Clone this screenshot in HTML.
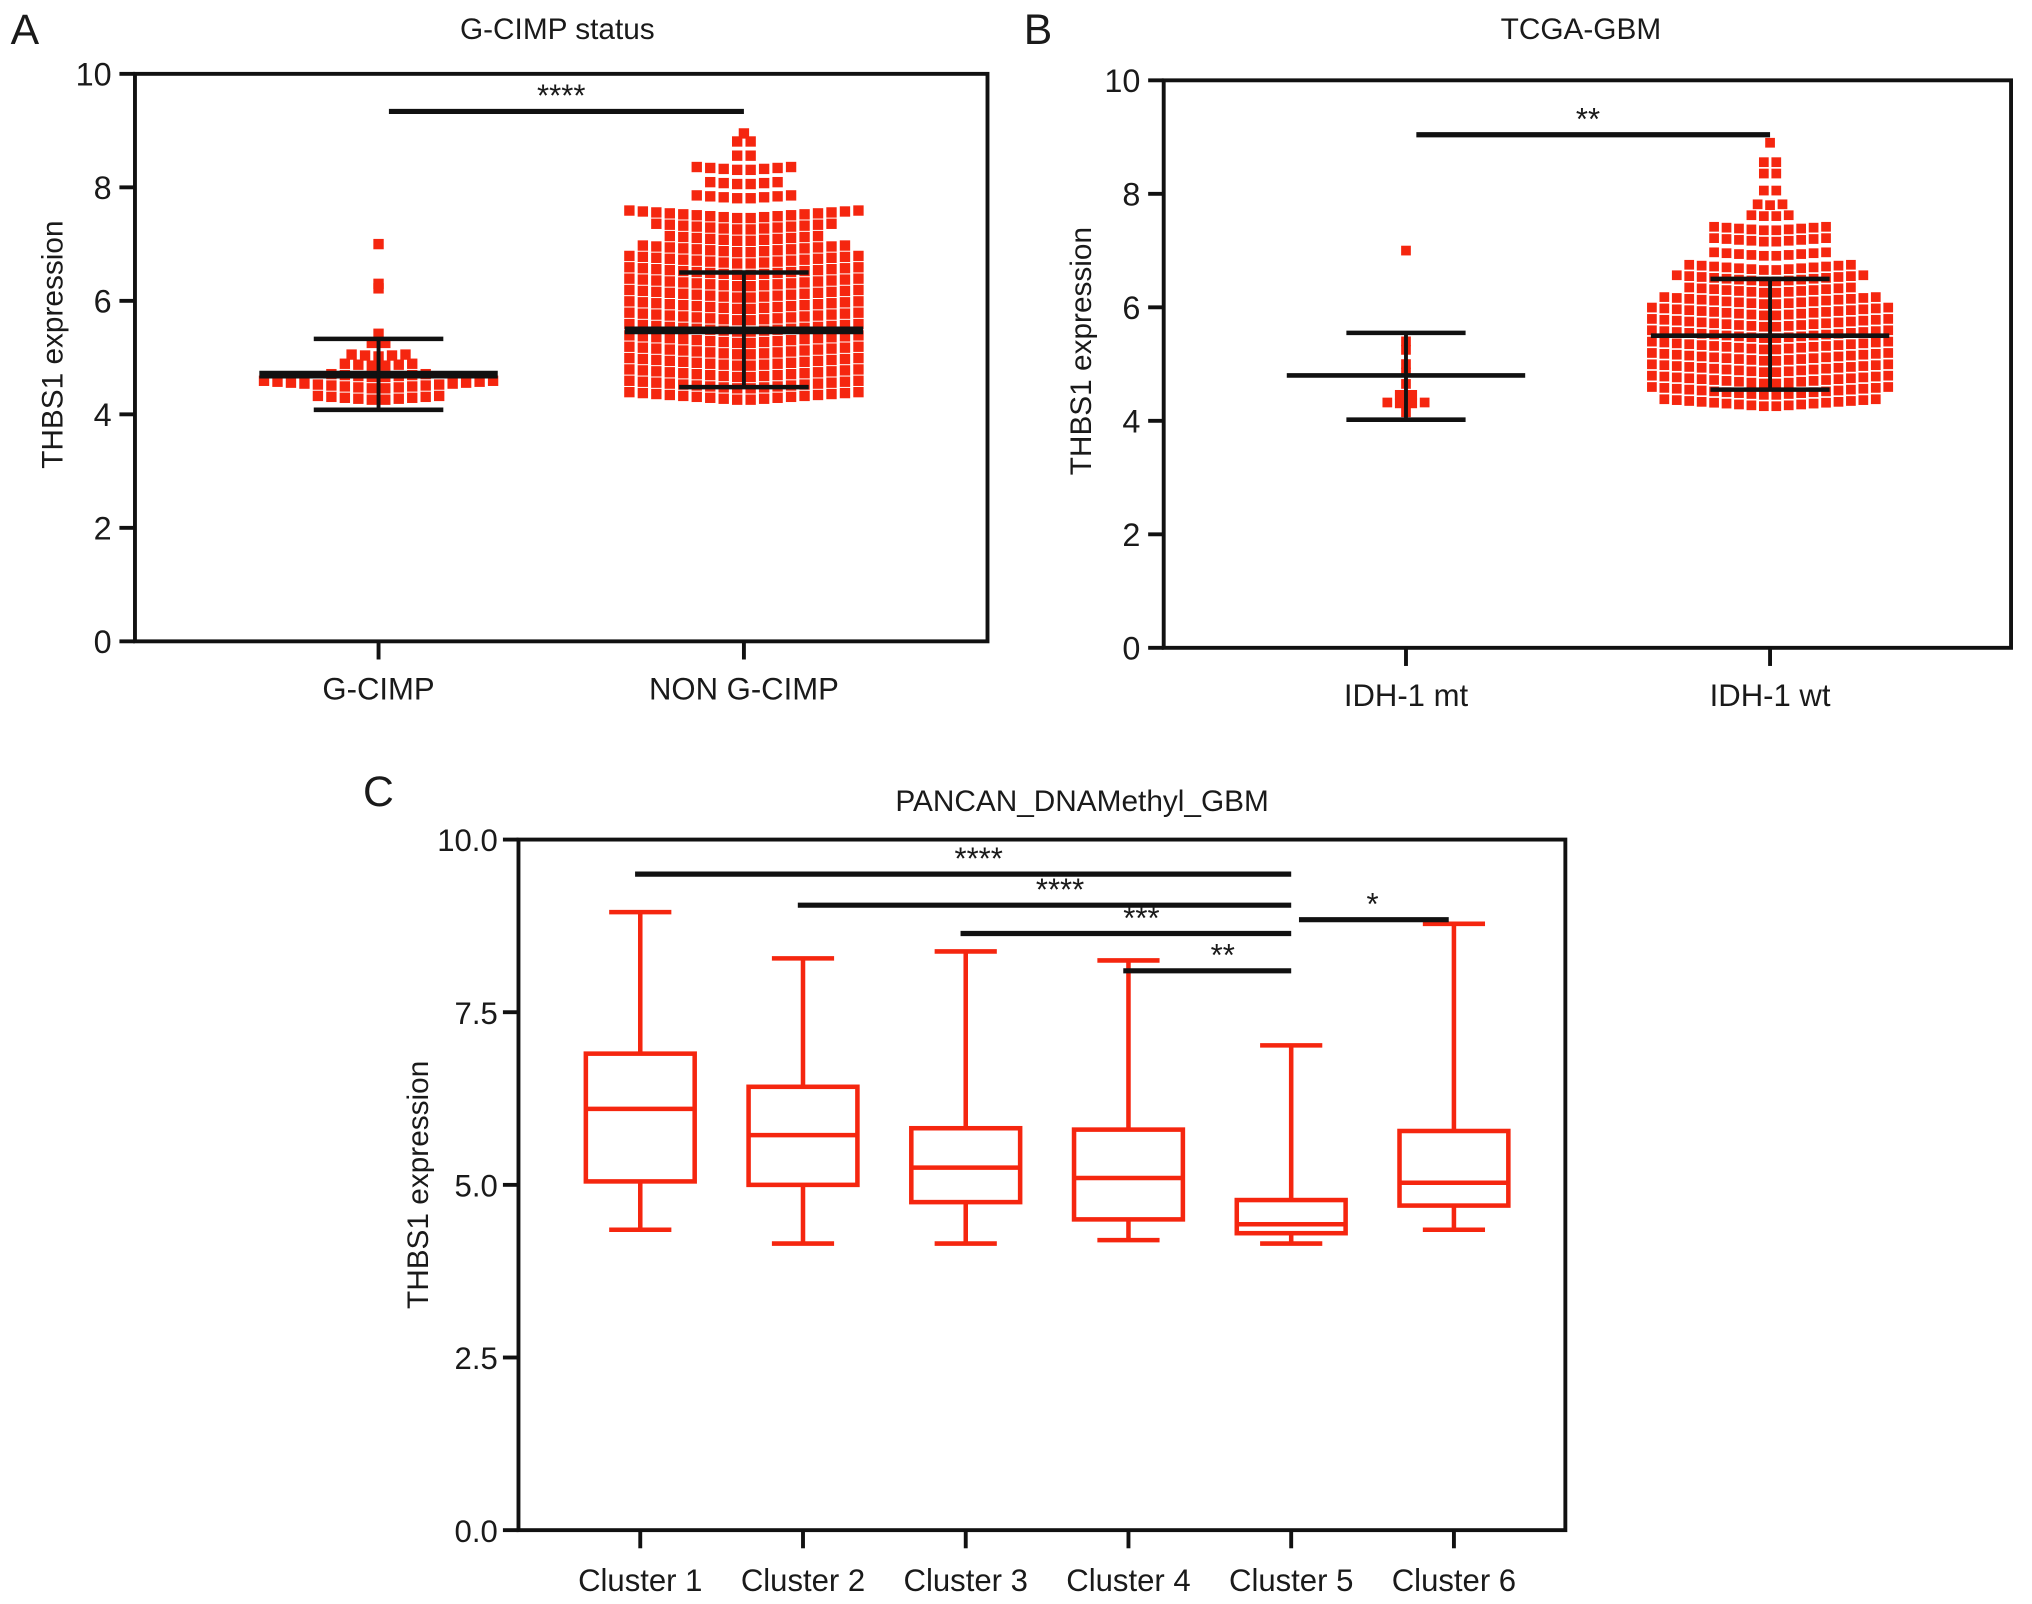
<!DOCTYPE html>
<html><head><meta charset="utf-8"><style>
html,body{margin:0;padding:0;background:#fff}
svg{display:block}
text{font-family:"Liberation Sans",Arial,sans-serif;fill:#1a1a1a}
</style></head><body>
<svg id="fig" width="2032" height="1604" viewBox="0 0 1568 1238" xmlns="http://www.w3.org/2000/svg">
<g id="gA"></g>
<g id="gB"></g>
<g id="gC"></g>
</svg>
<script>
// ---------- Panel A data ----------
const aCategories = ["G-CIMP", "NON G-CIMP"];
const aMeans = [4.7, 5.48];
const aSdHigh = [5.33, 6.5];
const aSdLow = [4.08, 4.48];
const aBinValues0 = [7.0, 6.3, 6.22, 5.42, 5.25, 5.02, 4.85, 4.65, 4.45, 4.25];
const aBinCounts0 = [1, 1, 1, 1, 2, 5, 6, 8, 18, 10];
const aBinValues1 = [8.95, 8.8, 8.55, 8.3, 8.05, 7.8, 7.45, 7.25, 7.05, 6.85, 6.65, 6.45, 6.25, 6.05, 5.85, 5.65, 5.45, 5.25, 5.05, 4.85, 4.65, 4.45, 4.25];
const aBinCounts1 = [1, 2, 2, 8, 6, 8, 18, 14, 12, 16, 18, 18, 18, 18, 18, 18, 18, 18, 18, 18, 18, 18, 18];
const aYTicks = [0, 2, 4, 6, 8, 10];

// ---------- Panel B data ----------
const bCategories = ["IDH-1 mt", "IDH-1 wt"];
const bMeans = [4.8, 5.5];
const bSdHigh = [5.55, 6.5];
const bSdLow = [4.02, 4.55];
const bBinValues0 = [7.0, 5.4, 5.25, 5.0, 4.85, 4.65, 4.45, 4.3, 4.15];
const bBinCounts0 = [1, 1, 1, 1, 1, 1, 2, 4, 1];
const bBinValues1 = [8.9, 8.55, 8.35, 8.05, 7.8, 7.6, 7.35, 7.15, 6.9, 6.65, 6.45, 6.25, 6.05, 5.85, 5.65, 5.45, 5.25, 5.05, 4.85, 4.65, 4.45, 4.25];
const bBinCounts1 = [1, 2, 2, 2, 3, 4, 10, 10, 10, 14, 16, 14, 18, 20, 20, 20, 20, 20, 20, 20, 20, 18];
const bYTicks = [0, 2, 4, 6, 8, 10];

// ---------- Panel C data ----------
const cCategories = ["Cluster 1", "Cluster 2", "Cluster 3", "Cluster 4", "Cluster 5", "Cluster 6"];
const cMin = [4.35, 4.15, 4.15, 4.2, 4.15, 4.35];
const cQ1 = [5.05, 5.0, 4.75, 4.5, 4.3, 4.7];
const cMedian = [6.1, 5.72, 5.25, 5.1, 4.43, 5.03];
const cQ3 = [6.9, 6.42, 5.82, 5.8, 4.78, 5.78];
const cMax = [8.95, 8.28, 8.38, 8.25, 7.02, 8.78];
const cYTicks = [0, 2.5, 5, 7.5, 10];
const cYTickLabels = ["0.0", "2.5", "5.0", "7.5", "10.0"];
const cSigFrom = [0, 1, 2, 3, 4];
const cSigTo = [4, 4, 4, 4, 5];
const cSigY = [9.5, 9.05, 8.64, 8.1, 8.84];
const cSigLabel = ["****", "****", "***", "**", "*"];

const NS = "http://www.w3.org/2000/svg";
function el(parent, tag, attrs, txt) {
  const e = document.createElementNS(NS, tag);
  for (const k in attrs) e.setAttribute(k, attrs[k]);
  if (txt !== undefined) e.textContent = txt;
  parent.appendChild(e);
  return e;
}

function dotPanel(g, cfg) {
  const yS = v => cfg.bottom - (v - 0) / 10 * (cfg.bottom - cfg.top);
  let f = el(g, "rect", {x: cfg.left, y: cfg.top, width: cfg.right - cfg.left, height: cfg.bottom - cfg.top, fill: "none", stroke: "#111", "stroke-width": 3});
  
  
  let t = el(g, "text", {x: cfg.letterX, y: 34, "font-size": 33}, cfg.letter);
  
  
  t = el(g, "text", {x: cfg.titleX, y: 30, "font-size": 23, "text-anchor": "middle"}, cfg.title);
  
  
  const yl = el(g, "text", {x: 0, y: 0, "font-size": 23, "text-anchor": "middle", transform: `translate(${cfg.left - 56},${(cfg.top + cfg.bottom) / 2 - 10}) rotate(-90)`}, "THBS1 expression");
  
  
  cfg.yTicks.forEach(v => {
    const tk = el(g, "line", {x1: cfg.left - 12, x2: cfg.left, y1: yS(v), y2: yS(v), stroke: "#111", "stroke-width": 3});
    
    
    const tl = el(g, "text", {x: cfg.left - 18, y: yS(v) + 9, "font-size": 25, "text-anchor": "end"}, String(v));
    
    
  });
  cfg.cats.forEach((c, i) => {
    const cx = cfg.xs[i];
    const tk = el(g, "line", {x1: cx, x2: cx, y1: cfg.bottom, y2: cfg.bottom + 14, stroke: "#111", "stroke-width": 3});
    
    
    const tl = el(g, "text", {x: cx, y: cfg.bottom + 45, "font-size": 24, "text-anchor": "middle"}, c);
    
    
    const vals = cfg.binVals[i], cnts = cfg.binCnts[i];
    vals.forEach((v, j) => {
      const n = cnts[j];
      for (let k = 0; k < n; k++) {
        const ox = (k - (n - 1) / 2) * cfg.sp;
        const tilt = Math.abs(ox) * 0.07;
        const r = el(g, "rect", {x: cx + ox - cfg.sz / 2, y: yS(v) - cfg.sz / 2 - tilt, width: cfg.sz, height: cfg.sz, fill: "#f5260f"});
        
        
      }
    });
  });
  cfg.cats.forEach((c, i) => {
    const cx = cfg.xs[i];
    let l = el(g, "line", {x1: cx - cfg.meanW, x2: cx + cfg.meanW, y1: yS(cfg.means[i]), y2: yS(cfg.means[i]), stroke: "#111", "stroke-width": cfg.meanSW});
    
    
    l = el(g, "line", {x1: cx, x2: cx, y1: yS(cfg.hi[i]), y2: yS(cfg.lo[i]), stroke: "#111", "stroke-width": 3});
    
    
    [cfg.hi[i], cfg.lo[i]].forEach(v => {
      const cp = el(g, "line", {x1: cx - cfg.capW, x2: cx + cfg.capW, y1: yS(v), y2: yS(v), stroke: "#111", "stroke-width": 3.5});
      
      
    });
  });
  let s = el(g, "line", {x1: cfg.xs[0] + 8, x2: cfg.xs[1], y1: cfg.sigY, y2: cfg.sigY, stroke: "#111", "stroke-width": 4});
  
  
  s = el(g, "text", {x: (cfg.xs[0] + cfg.xs[1]) / 2, y: cfg.sigY - 4, "font-size": 24, "text-anchor": "middle"}, cfg.sig);
  
  
}

dotPanel(document.getElementById("gA"), {
  left: 104, right: 762, top: 57, bottom: 495, letter: "A", letterX: 8, title: "G-CIMP status", titleX: 430,
  yTicks: aYTicks, cats: aCategories, xs: [292, 574],
  binVals: [aBinValues0, aBinValues1], binCnts: [aBinCounts0, aBinCounts1],
  means: aMeans, hi: aSdHigh, lo: aSdLow, meanW: 92, meanSW: 6, capW: 50, sp: 10.4, sz: 8,
  sigY: 86, sig: "****"
});
dotPanel(document.getElementById("gB"), {
  left: 898, right: 1552, top: 62, bottom: 500, letter: "B", letterX: 790, title: "TCGA-GBM", titleX: 1220,
  yTicks: bYTicks, cats: bCategories, xs: [1085, 1366],
  binVals: [bBinValues0, bBinValues1], binCnts: [bBinCounts0, bBinCounts1],
  means: bMeans, hi: bSdHigh, lo: bSdLow, meanW: 92, meanSW: 3.5, capW: 46, sp: 9.6, sz: 7.5,
  sigY: 104, sig: "**"
});

// ---------- Panel C ----------
(function () {
  const g = document.getElementById("gC");
  const left = 400, right = 1208, top = 648, bottom = 1181;
  const yS = v => bottom - v / 10 * (bottom - top);
  const xS = i => 494 + i * 125.6;
  let f = el(g, "rect", {x: left, y: top, width: right - left, height: bottom - top, fill: "none", stroke: "#111", "stroke-width": 3});
  
  
  let t = el(g, "text", {x: 280, y: 622, "font-size": 33}, "C");
  
  
  t = el(g, "text", {x: 835, y: 626, "font-size": 23, "text-anchor": "middle"}, "PANCAN_DNAMethyl_GBM");
  
  
  t = el(g, "text", {x: 0, y: 0, "font-size": 23, "text-anchor": "middle", transform: `translate(330,${(top + bottom) / 2}) rotate(-90)`}, "THBS1 expression");
  
  
  cYTicks.forEach((v, i) => {
    const tk = el(g, "line", {x1: left - 12, x2: left, y1: yS(v), y2: yS(v), stroke: "#111", "stroke-width": 3});
    
    
    const tl = el(g, "text", {x: left - 16, y: yS(v) + 9, "font-size": 24, "text-anchor": "end"}, cYTickLabels[i]);
    
    
  });
  cCategories.forEach((c, i) => {
    const cx = xS(i);
    const tk = el(g, "line", {x1: cx, x2: cx, y1: bottom, y2: bottom + 14, stroke: "#111", "stroke-width": 3});
    
    
    const tl = el(g, "text", {x: cx, y: bottom + 47, "font-size": 24, "text-anchor": "middle"}, c);
    
    
    const st = {stroke: "#f5260f", "stroke-width": 3.5, fill: "none"};
    let b = el(g, "rect", Object.assign({x: cx - 42, y: yS(cQ3[i]), width: 84, height: yS(cQ1[i]) - yS(cQ3[i])}, st));
    
    
    b = el(g, "line", Object.assign({x1: cx - 42, x2: cx + 42, y1: yS(cMedian[i]), y2: yS(cMedian[i])}, st));
    
    
    b = el(g, "line", Object.assign({x1: cx, x2: cx, y1: yS(cMax[i]), y2: yS(cQ3[i])}, st));
    
    
    b = el(g, "line", Object.assign({x1: cx, x2: cx, y1: yS(cQ1[i]), y2: yS(cMin[i])}, st));
    
    
    [cMax[i], cMin[i]].forEach(v => {
      const cp = el(g, "line", Object.assign({x1: cx - 24, x2: cx + 24, y1: yS(v), y2: yS(v)}, st));
      
      
    });
  });
  cSigFrom.forEach((a, i) => {
    const y = yS(cSigY[i]);
    const l = el(g, "line", {x1: a === 4 ? xS(4) + 6 : xS(a) - 4, x2: a === 4 ? xS(5) - 4 : xS(cSigTo[i]), y1: y, y2: y, stroke: "#111", "stroke-width": 4});
    
    
    const tl = el(g, "text", {x: (xS(a) + xS(cSigTo[i])) / 2 + (a === 4 ? 0 : 10), y: y - 4, "font-size": 24, "text-anchor": "middle"}, cSigLabel[i]);
    
    
  });
})();
</script>
</body></html>
